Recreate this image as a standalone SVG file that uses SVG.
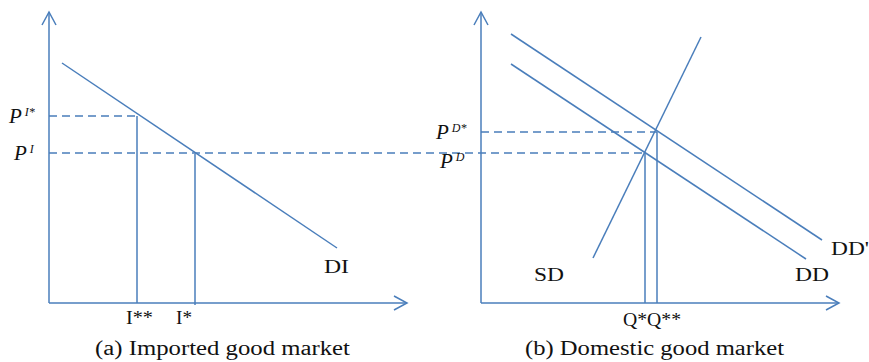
<svg xmlns="http://www.w3.org/2000/svg" width="869" height="362" viewBox="0 0 869 362">
<style>
.ln{stroke:#4a7ebb;stroke-width:1.5;fill:none}
.ds{stroke:#4a7ebb;stroke-width:1.3;fill:none;stroke-dasharray:8,5}
.t{font-family:"Liberation Serif",serif;font-size:18px;fill:#111}
.c{font-family:"Liberation Serif",serif;font-size:20px;fill:#111}
.p{font-family:"Liberation Serif",serif;font-style:italic;font-size:21px;fill:#111}
.s{font-size:12px}
</style>
<defs>
<marker id="ar" markerWidth="16" markerHeight="16" refX="14" refY="8" orient="auto" markerUnits="userSpaceOnUse">
<path d="M1,1 L14,8 L1,15" stroke="#4a7ebb" stroke-width="1.5" fill="none"/>
</marker>
</defs>
<rect width="869" height="362" fill="#fff"/>
<g id="axes">
<line class="ln" x1="49" y1="303" x2="49" y2="12" marker-end="url(#ar)"/>
<line class="ln" x1="49" y1="303" x2="407" y2="303" marker-end="url(#ar)"/>
<line class="ln" x1="481" y1="303" x2="481" y2="12" marker-end="url(#ar)"/>
<line class="ln" x1="481" y1="303" x2="839" y2="303" marker-end="url(#ar)"/>
</g>
<g id="connectors">
<line class="ln" x1="62" y1="63" x2="337" y2="248"/>
<line class="ds" x1="49" y1="116" x2="137" y2="116"/>
<line class="ln" x1="137" y1="116" x2="137" y2="303"/>
<line class="ds" x1="49" y1="153" x2="645" y2="153"/>
<line class="ln" x1="195" y1="154" x2="195" y2="305"/>
<line class="ln" x1="511" y1="34" x2="822" y2="240"/>
<line class="ln" x1="511" y1="64" x2="806" y2="259"/>
<line class="ln" x1="593" y1="258" x2="701" y2="37"/>
<line class="ds" x1="481" y1="132" x2="657" y2="132"/>
<line class="ln" x1="657" y1="132" x2="657" y2="303"/>
<line class="ln" x1="645" y1="153" x2="645" y2="303"/>
</g>
<g id="labels">
<text class="p" x="9" y="123">P<tspan class="s" dx="3" dy="-7">I*</tspan></text>
<text class="p" x="14" y="160">P<tspan class="s" dx="3" dy="-7">I</tspan></text>
<text class="t" x="126" y="324" textLength="27" lengthAdjust="spacingAndGlyphs">I**</text>
<text class="t" x="176" y="324" textLength="16" lengthAdjust="spacingAndGlyphs">I*</text>
<text class="t" x="324" y="273" textLength="25" lengthAdjust="spacingAndGlyphs">DI</text>
<text class="c" x="95" y="355" textLength="255" lengthAdjust="spacingAndGlyphs">(a) Imported good market</text>
<text class="p" x="436" y="139">P<tspan class="s" dx="3" dy="-7">D*</tspan></text>
<text class="p" x="440" y="168">P<tspan class="s" dx="3" dy="-7">D</tspan></text>
<text class="t" x="623" y="326" textLength="58" lengthAdjust="spacingAndGlyphs">Q*Q**</text>
<text class="t" x="534" y="281" textLength="30" lengthAdjust="spacingAndGlyphs">SD</text>
<text class="t" x="795" y="281" textLength="34" lengthAdjust="spacingAndGlyphs">DD</text>
<text class="t" x="831" y="255" textLength="38" lengthAdjust="spacingAndGlyphs">DD'</text>
<text class="c" x="525" y="355" textLength="259" lengthAdjust="spacingAndGlyphs">(b) Domestic good market</text>
</g>
</svg>
